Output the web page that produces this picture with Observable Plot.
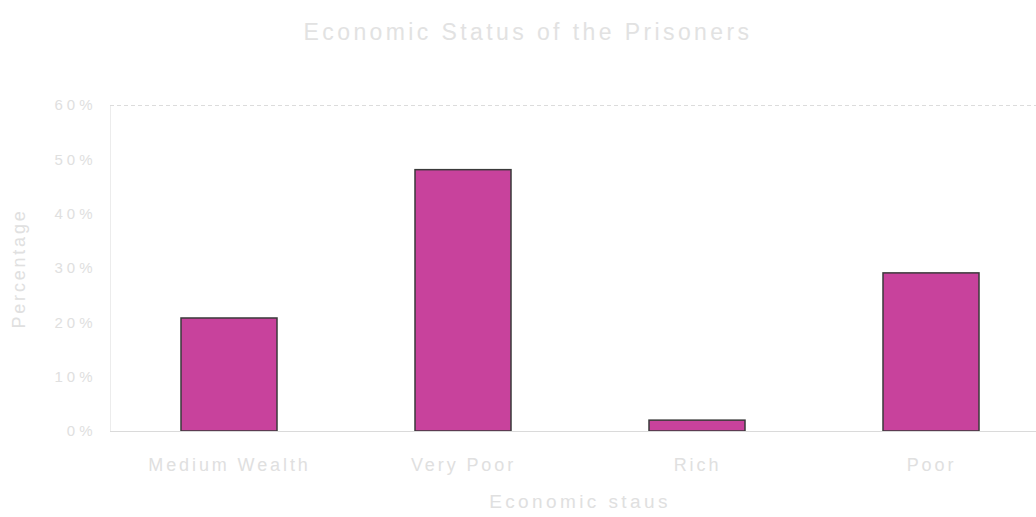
<!DOCTYPE html>
<html>
<head>
<meta charset="utf-8">
<script src="https://cdn.jsdelivr.net/npm/d3@7"></script>
<script src="https://cdn.jsdelivr.net/npm/@observablehq/plot@0.6"></script>
<style>
  html, body { margin: 0; padding: 0; background: #fff; }
  #title { height: 60px; line-height: 64px; text-align: center; font-family: "Liberation Sans", Arial, sans-serif; font-size: 23px; letter-spacing: 3.4px; color: #e2e2e2; padding-left: 20px; }
  svg { display: block; overflow: visible; }
</style>
</head>
<body>
<div id="title">Economic Status of the Prisoners</div>
<div id="chart"></div>
<script>
const categories = ["Medium Wealth", "Very Poor", "Rich", "Poor"];
const percentages = [20.8, 48.1, 2.0, 29.1];
const yTicks = [0, 10, 20, 30, 40, 50, 60];
const yLabel = "Percentage";
const xLabel = "Economic staus";

const data = categories.map((c, i) => ({category: c, value: percentages[i]}));

const textColor = "#e0e0e0";
const chart = Plot.plot({
  width: 1036,
  height: 457,
  marginTop: 45,
  marginBottom: 86,
  marginLeft: 110,
  marginRight: -13,
  style: {fontFamily: "Liberation Sans, Arial, sans-serif", color: textColor, background: "#fff"},
  x: {domain: categories, paddingInner: 0.59, paddingOuter: 0.295, label: null},
  y: {domain: [0, 60], ticks: yTicks, label: null},
  marks: [
    Plot.frame({anchor: "left", stroke: "#ececec"}),
    Plot.ruleY([60], {stroke: "#dcdcdc", strokeDasharray: "4,3"}),
    Plot.barY(data, {x: "category", y: "value", fill: "#c8429c", stroke: "#3a3a3a", strokeWidth: 1.5}),
    Plot.ruleY([0], {stroke: "#dadada"}),
    Plot.axisY({ticks: yTicks, tickFormat: d => d + "%", tickSize: 0, tickPadding: 14, fontSize: 15, label: null}),
    Plot.axisX({tickSize: 0, tickPadding: 27, fontSize: 18, label: null}),
    Plot.text([yLabel], {frameAnchor: "left", textAnchor: "middle", dx: -91, rotate: -90, fontSize: 18, fill: textColor}),
    Plot.text([xLabel], {frameAnchor: "bottom", dy: 76, fontSize: 19, fill: textColor})
  ]
});
// letter spacing to match the wide-set lettering of the reference
d3.select(chart).selectAll("text").each(function() {
  const t = this.textContent;
  let s = null;
  if (categories.includes(t)) s = 2.9;
  else if (t.endsWith("%")) s = 4;
  else if (t === yLabel) s = 2.8;
  else if (t === xLabel) s = 3.4;
  if (s !== null) this.setAttribute("letter-spacing", s);
});
document.getElementById("chart").appendChild(chart);
</script>
</body>
</html>
